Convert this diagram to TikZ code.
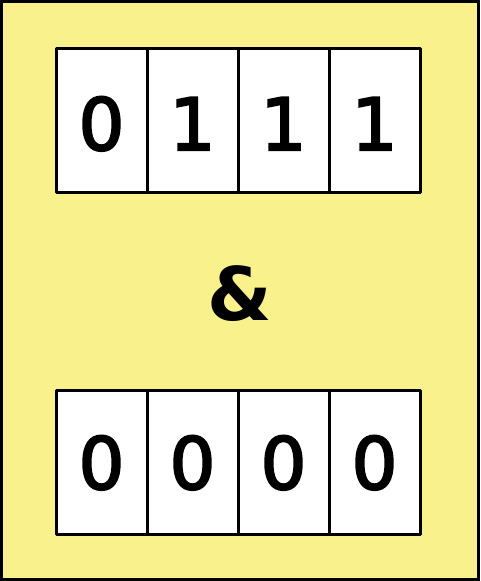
\documentclass[tikz,border=0pt]{standalone}
\usepackage{fontspec}
\newfontfamily\digitfont[FakeBold=3]{DejaVu Sans}
\newfontfamily\ampfont{DejaVu Sans}
\definecolor{bgyellow}{RGB}{249,241,139}
\begin{document}
\begin{tikzpicture}[x=1pt,y=-1pt,
  cell/.style={fill=white,minimum width=91pt,minimum height=144pt,inner sep=0pt,outer sep=0pt},
  cellline/.style={draw=black,line width=3pt,line join=round},
  digit/.style={anchor=base,inner sep=0pt,font=\digitfont\fontsize{72}{72}\selectfont},
  ampstyle/.style={anchor=base,inner sep=0pt,font=\ampfont\bfseries\fontsize{74}{74}\selectfont}]
\useasboundingbox (0,0) rectangle (480,581);
\draw[fill=bgyellow,line width=3pt] (1.5,1.5) rectangle (478.5,579.5);
\foreach \i/\v in {0/0,1/1,2/1,3/1}{
  \node[cell] (t\i) at (101.5+91*\i,120) {};
  \node[digit] (td\i) at (101.5+91*\i,150) {\v};
}
\foreach \i/\v in {0/0,1/0,2/0,3/0}{
  \node[cell] (b\i) at (101.5+91*\i,462) {};
  \node[digit] (bd\i) at (101.5+91*\i,489) {\v};
}
\foreach \i in {0,1,2,3}{
  \draw[cellline] (t\i.north west) rectangle (t\i.south east);
  \draw[cellline] (b\i.north west) rectangle (b\i.south east);
}
\node[ampstyle] (amp) at (240,320) {\&};
\end{tikzpicture}
\end{document}
